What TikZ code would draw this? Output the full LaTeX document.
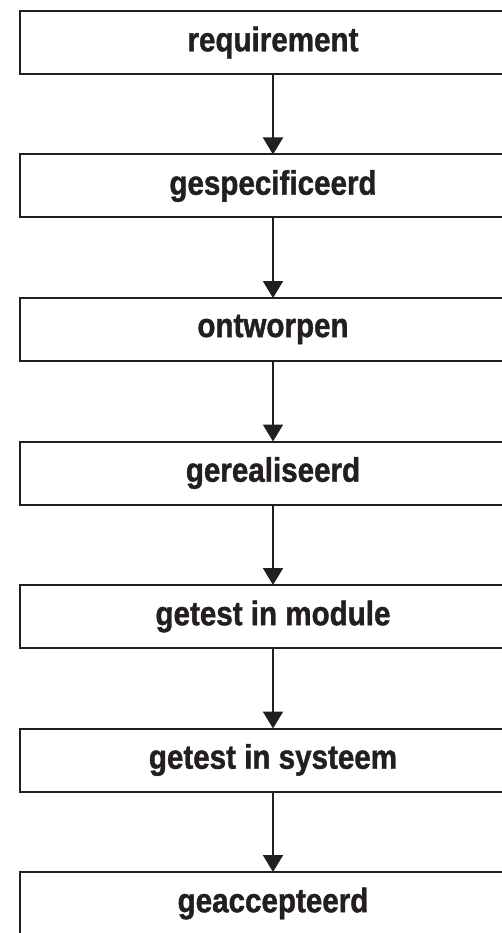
\documentclass[tikz,border=0pt]{standalone}
\usepackage{fontspec}
\setmainfont{Liberation Sans}[FakeStretch=0.87, BoldFeatures={FakeBold=1.2}]
\usepackage{tikz}
\usetikzlibrary{positioning, arrows.meta}

\definecolor{inkt}{HTML}{231F20}

\tikzset{
    fase/.style={draw=inkt, line width=2pt, rectangle, minimum width=506pt,
        minimum height=63pt, inner sep=0pt, outer sep=0pt, text=inkt,
        font=\fontsize{34}{40}\selectfont\bfseries},
    pijl/.style={draw=inkt, line width=2pt, -{Triangle[width=20pt, length=17pt]}}
}

\begin{document}
\begin{tikzpicture}[node distance=80.5pt]
    \useasboundingbox (0,0) rectangle (502pt,-933pt);
    \clip (0,0) rectangle (502pt,-933pt);

    \node[fase] (req) at (273pt,-42.5pt) {requirement};
    \node[fase, below=of req] (spec) {gespecificeerd};
    \node[fase, below=of spec] (ontw) {ontworpen};
    \node[fase, below=of ontw] (real) {gerealiseerd};
    \node[fase, below=of real] (module) {getest in module};
    \node[fase, below=of module] (systeem) {getest in systeem};
    \node[fase, below=of systeem] (acc) {geaccepteerd};

    % pijlen tussen de fasen
    \draw[pijl] (req) -- (spec);
    \draw[pijl] (spec) -- (ontw);
    \draw[pijl] (ontw) -- (real);
    \draw[pijl] (real) -- (module);
    \draw[pijl] (module) -- (systeem);
    \draw[pijl] (systeem) -- (acc);
\end{tikzpicture}
\end{document}
